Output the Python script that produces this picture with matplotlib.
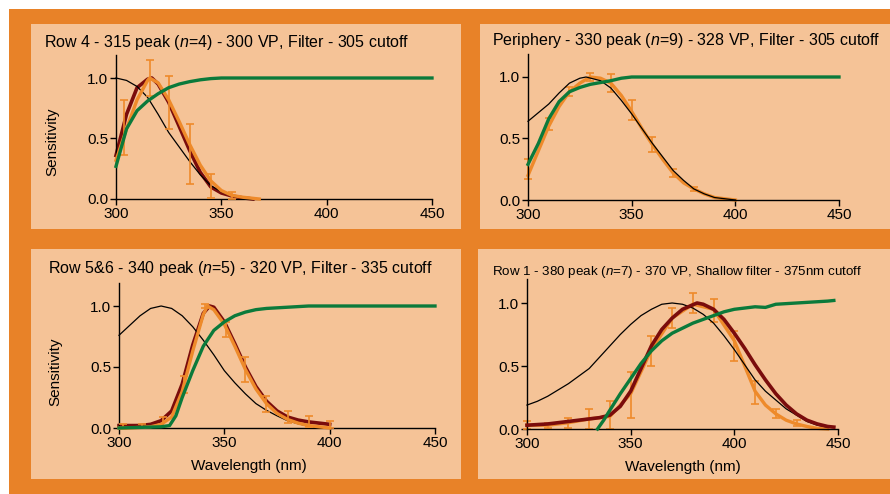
import matplotlib
matplotlib.use('Agg')
import matplotlib.pyplot as plt
from matplotlib.patches import Rectangle

plt.rcParams['font.family'] = ['Liberation Sans', 'DejaVu Sans']
plt.rcParams['mathtext.fontset'] = 'custom'
plt.rcParams['mathtext.rm'] = 'Liberation Sans'
plt.rcParams['mathtext.it'] = 'Liberation Sans:italic'

# colours
FRAME = '#E88228'
PANEL = '#F5C397'
DARKRED = '#7A0C0C'
ORANGE = '#EE8A2A'
GREEN = '#0B7A3B'

# ---- Row 4 ----
p1_black_x = [300, 305, 310, 315, 320, 325, 330, 335, 340, 345, 350, 355, 360, 365]
p1_black_y = [1.0, 0.98, 0.93, 0.84, 0.70, 0.55, 0.43, 0.31, 0.20, 0.11, 0.06, 0.025, 0.01, 0.0]
p1_red_x = [300, 305, 310, 315, 317, 320, 325, 330, 335, 340, 345, 350, 355, 360, 365]
p1_red_y = [0.36, 0.70, 0.92, 0.99, 1.0, 0.95, 0.80, 0.60, 0.40, 0.22, 0.10, 0.05, 0.025, 0.01, 0.0]
p1_orange_x = [300, 305, 310, 315, 316, 320, 325, 330, 335, 340, 345, 350, 355, 360, 368]
p1_orange_y = [0.32, 0.58, 0.82, 0.98, 1.0, 0.96, 0.82, 0.64, 0.45, 0.28, 0.15, 0.07, 0.03, 0.015, 0.0]
p1_err_x = [304, 316, 325, 335, 345, 355]
p1_err_y = [0.59, 1.0, 0.80, 0.37, 0.11, 0.03]
p1_err = [0.23, 0.15, 0.22, 0.25, 0.10, 0.03]
p1_green_x = [300, 305, 310, 315, 320, 325, 330, 335, 340, 345, 350, 450]
p1_green_y = [0.27, 0.58, 0.73, 0.81, 0.87, 0.92, 0.95, 0.97, 0.985, 0.995, 1.0, 1.0]

# ---- Periphery ----
p2_black_x = [300, 305, 310, 315, 320, 325, 328, 335, 340, 345, 350, 355, 360, 365, 370,
              375, 380, 385, 390, 395, 400]
p2_black_y = [0.64, 0.71, 0.78, 0.87, 0.95, 0.99, 1.0, 0.97, 0.91, 0.81, 0.70, 0.58, 0.46,
              0.35, 0.24, 0.16, 0.09, 0.05, 0.02, 0.01, 0.0]
p2_orange_x = [300, 305, 310, 315, 320, 325, 330, 335, 340, 345, 350, 355, 360, 365, 370,
               375, 380, 385, 390, 395, 400]
p2_orange_y = [0.20, 0.40, 0.60, 0.76, 0.88, 0.95, 1.0, 0.99, 0.95, 0.85, 0.72, 0.58, 0.45,
               0.33, 0.22, 0.14, 0.09, 0.05, 0.02, 0.01, 0.0]
p2_err_x = [300, 310, 320, 330, 340, 350, 360, 370, 380]
p2_err_y = [0.25, 0.62, 0.88, 1.0, 0.95, 0.73, 0.45, 0.22, 0.09]
p2_err = [0.08, 0.05, 0.035, 0.03, 0.075, 0.08, 0.06, 0.035, 0.015]
p2_green_x = [300, 305, 310, 315, 320, 325, 330, 335, 340, 345, 350, 450]
p2_green_y = [0.29, 0.46, 0.66, 0.80, 0.88, 0.915, 0.94, 0.955, 0.97, 0.99, 1.0, 1.0]

# ---- Row 5&6 ----
p3_black_x = [300, 305, 310, 315, 320, 325, 330, 335, 340, 345, 350, 355, 360, 365, 370,
              375, 380, 385, 390, 395, 400]
p3_black_y = [0.76, 0.84, 0.92, 0.98, 1.0, 0.98, 0.92, 0.83, 0.72, 0.60, 0.47, 0.37, 0.28,
              0.20, 0.145, 0.10, 0.06, 0.035, 0.015, 0.005, 0.0]
p3_red_x = [300, 305, 310, 315, 320, 325, 330, 335, 340, 343, 345, 350, 355, 360, 365, 370,
            375, 380, 385, 390, 395, 400]
p3_red_y = [0.02, 0.02, 0.02, 0.03, 0.06, 0.14, 0.36, 0.68, 0.94, 1.0, 0.99, 0.87, 0.69, 0.50,
            0.34, 0.22, 0.14, 0.09, 0.065, 0.05, 0.04, 0.03]
p3_orange_x = [300, 305, 310, 315, 320, 325, 330, 335, 340, 342, 345, 350, 355, 360, 365, 370,
               375, 380, 385, 390, 395, 400]
p3_orange_y = [0.0, 0.0, 0.005, 0.01, 0.03, 0.09, 0.30, 0.63, 0.93, 1.0, 0.97, 0.85, 0.67, 0.48,
               0.32, 0.20, 0.12, 0.07, 0.04, 0.02, 0.01, 0.0]
p3_err_x = [302, 311, 321, 331, 341, 351, 360, 370, 380, 390, 400]
p3_err_y = [0.015, 0.015, 0.05, 0.36, 1.0, 0.81, 0.48, 0.20, 0.09, 0.055, 0.03]
p3_err = [0.02, 0.015, 0.04, 0.07, 0.02, 0.06, 0.10, 0.065, 0.05, 0.045, 0.03]
p3_green_x = [300, 310, 320, 324, 327, 330, 335, 340, 345, 350, 355, 360, 365, 370, 380, 390, 450]
p3_green_y = [0.0, 0.005, 0.01, 0.02, 0.10, 0.25, 0.47, 0.67, 0.80, 0.87, 0.92, 0.95, 0.97,
              0.98, 0.99, 1.0, 1.0]

# ---- Row 1 ----
p4_black_x = [300, 305, 310, 315, 320, 325, 330, 335, 340, 345, 350, 355, 360, 365, 370, 375,
              380, 385, 390, 395, 400, 405, 410, 415, 420, 425, 430, 435, 440, 445, 448]
p4_black_y = [0.19, 0.22, 0.26, 0.31, 0.36, 0.42, 0.48, 0.57, 0.66, 0.75, 0.83, 0.90, 0.95,
              0.99, 1.0, 0.99, 0.96, 0.91, 0.84, 0.74, 0.63, 0.51, 0.39, 0.30, 0.23, 0.16,
              0.11, 0.06, 0.03, 0.015, 0.01]
p4_red_x = [300, 310, 320, 330, 335, 340, 345, 350, 355, 360, 365, 370, 375, 382, 385, 390,
            395, 400, 405, 410, 415, 420, 425, 430, 435, 440, 445, 448]
p4_red_y = [0.03, 0.04, 0.06, 0.08, 0.09, 0.11, 0.18, 0.30, 0.48, 0.66, 0.79, 0.88, 0.95, 1.0,
            0.99, 0.95, 0.87, 0.76, 0.64, 0.51, 0.39, 0.28, 0.19, 0.12, 0.07, 0.04, 0.02, 0.015]
p4_orange_x = [300, 310, 320, 330, 340, 350, 360, 370, 380, 390, 400, 405, 410, 415, 420, 425,
               430, 435, 440, 445]
p4_orange_y = [0.03, 0.03, 0.05, 0.08, 0.10, 0.28, 0.63, 0.88, 0.99, 0.95, 0.70, 0.50, 0.30,
               0.19, 0.12, 0.07, 0.04, 0.02, 0.005, 0.0]
p4_err_x = [300, 310, 320, 330, 340, 350, 360, 370, 380, 390, 400, 410, 420, 430]
p4_err_y = [0.03, 0.03, 0.05, 0.08, 0.11, 0.27, 0.62, 0.88, 1.0, 0.94, 0.66, 0.29, 0.12, 0.05]
p4_err = [0.03, 0.02, 0.04, 0.08, 0.11, 0.18, 0.12, 0.08, 0.08, 0.09, 0.12, 0.09, 0.035, 0.025]
p4_green_x = [334, 337, 340, 345, 350, 355, 360, 365, 370, 375, 380, 385, 390, 395, 400, 405,
              410, 415, 420, 425, 430, 435, 440, 445, 448]
p4_green_y = [0.0, 0.07, 0.15, 0.28, 0.40, 0.52, 0.62, 0.70, 0.76, 0.80, 0.84, 0.87, 0.90,
              0.93, 0.95, 0.96, 0.97, 0.965, 0.99, 0.995, 1.0, 1.005, 1.01, 1.015, 1.02]

titles = ['Row 4 - 315 peak ($n$=4) - 300 VP, Filter - 305 cutoff',
          'Periphery - 330 peak ($n$=9) - 328 VP, Filter - 305 cutoff',
          'Row 5&6 - 340 peak ($n$=5) - 320 VP, Filter - 335 cutoff',
          'Row 1 - 380 peak ($n$=7) - 370 VP, Shallow filter - 375nm cutoff']

W, H = 890, 494
fig = plt.figure(figsize=(W / 100, H / 100), dpi=100)
fig.patch.set_facecolor('white')


def px_rect(x0, y0, x1, y1, color):
    # pixel coords measured from top-left
    fig.add_artist(Rectangle((x0 / W, 1 - y1 / H), (x1 - x0) / W, (y1 - y0) / H,
                             transform=fig.transFigure, facecolor=color,
                             edgecolor='none', zorder=-10))


px_rect(9, 9, 890, 494, FRAME)
px_rect(31, 24, 461, 229, PANEL)
px_rect(480, 24, 890, 229, PANEL)
px_rect(31, 249, 461, 479, PANEL)
px_rect(478, 249, 890, 479, PANEL)

YTOP = 1.19
FS = 11


def make_ax(x0, x1, y0px, unit):
    h = YTOP * unit
    ax = fig.add_axes([x0 / W, 1 - y0px / H, (x1 - x0) / W, h / H])
    ax.set_facecolor('none')
    ax.set_xlim(300, 450)
    ax.set_ylim(0, YTOP)
    ax.set_xticks([300, 350, 400, 450])
    ax.set_yticks([0.0, 0.5, 1.0])
    ax.set_yticklabels(['0.0', '0.5', '1.0'])
    for s in ['top', 'right']:
        ax.spines[s].set_visible(False)
    for s in ['left', 'bottom']:
        ax.spines[s].set_linewidth(1.0)
        ax.spines[s].set_clip_on(False)
    ax.tick_params(direction='out', length=4, width=1, labelsize=FS, pad=1.5,
                   colors='black')
    return ax


ax1 = make_ax(116, 432, 199, 121)
ax2 = make_ax(528, 839, 200, 123)
ax3 = make_ax(119, 435, 428, 122)
ax4 = make_ax(527, 838, 429, 126)

ekw = dict(fmt='none', ecolor=ORANGE, elinewidth=1.2, capsize=3, capthick=1.2, clip_on=False)

# Row 4
ax1.plot(p1_black_x, p1_black_y, color='black', lw=0.9, zorder=3)
ax1.plot(p1_red_x, p1_red_y, color=DARKRED, lw=2.6, zorder=2)
ax1.plot(p1_orange_x, p1_orange_y, color=ORANGE, lw=2.4, zorder=4)
ax1.errorbar(p1_err_x, p1_err_y, yerr=p1_err, zorder=4, **ekw)
ax1.plot(p1_green_x, p1_green_y, color=GREEN, lw=2.4, zorder=5)

# Periphery
ax2.plot(p2_orange_x, p2_orange_y, color=ORANGE, lw=2.4, zorder=2)
ax2.errorbar(p2_err_x, p2_err_y, yerr=p2_err, zorder=2, **ekw)
ax2.plot(p2_black_x, p2_black_y, color='black', lw=0.9, zorder=3)
ax2.plot(p2_green_x, p2_green_y, color=GREEN, lw=2.4, zorder=5)

# Row 5&6
ax3.plot(p3_black_x, p3_black_y, color='black', lw=0.9, zorder=3)
ax3.plot(p3_red_x, p3_red_y, color=DARKRED, lw=2.6, zorder=2)
ax3.plot(p3_orange_x, p3_orange_y, color=ORANGE, lw=2.4, zorder=4)
ax3.errorbar(p3_err_x, p3_err_y, yerr=p3_err, zorder=4, **ekw)
ax3.plot(p3_green_x, p3_green_y, color=GREEN, lw=2.4, zorder=5)

# Row 1
ax4.plot(p4_black_x, p4_black_y, color='black', lw=0.9, zorder=3)
ax4.plot(p4_orange_x, p4_orange_y, color=ORANGE, lw=2.4, zorder=1)
ax4.errorbar(p4_err_x, p4_err_y, yerr=p4_err, zorder=2, **ekw)
ax4.plot(p4_red_x, p4_red_y, color=DARKRED, lw=2.6, zorder=4)
ax4.plot(p4_green_x, p4_green_y, color=GREEN, lw=2.4, zorder=5)

for ax in (ax1, ax2, ax3, ax4):
    for ln in ax.lines:
        ln.set_clip_on(False)

ax1.set_ylabel('Sensitivity', fontsize=FS)
ax1.yaxis.set_label_coords(-0.18, 0.40)
ax3.set_ylabel('Sensitivity', fontsize=FS)
ax3.yaxis.set_label_coords(-0.18, 0.39)
ax3.set_xlabel('Wavelength (nm)', fontsize=FS)
ax3.xaxis.set_label_coords(0.41, -0.215)
ax4.set_xlabel('Wavelength (nm)', fontsize=FS)
ax4.xaxis.set_label_coords(0.50, -0.205)

fig.text(44 / W, 1 - 42 / H, titles[0], fontsize=11.5, va='center', ha='left')
fig.text(492 / W, 1 - 40 / H, titles[1], fontsize=11.5, va='center', ha='left')
fig.text(48 / W, 1 - 269 / H, titles[2], fontsize=11.5, va='center', ha='left')
fig.text(492 / W, 1 - 272 / H, titles[3], fontsize=9.6, va='center', ha='left')

fig.savefig('out.png', dpi=100, facecolor=fig.get_facecolor())
